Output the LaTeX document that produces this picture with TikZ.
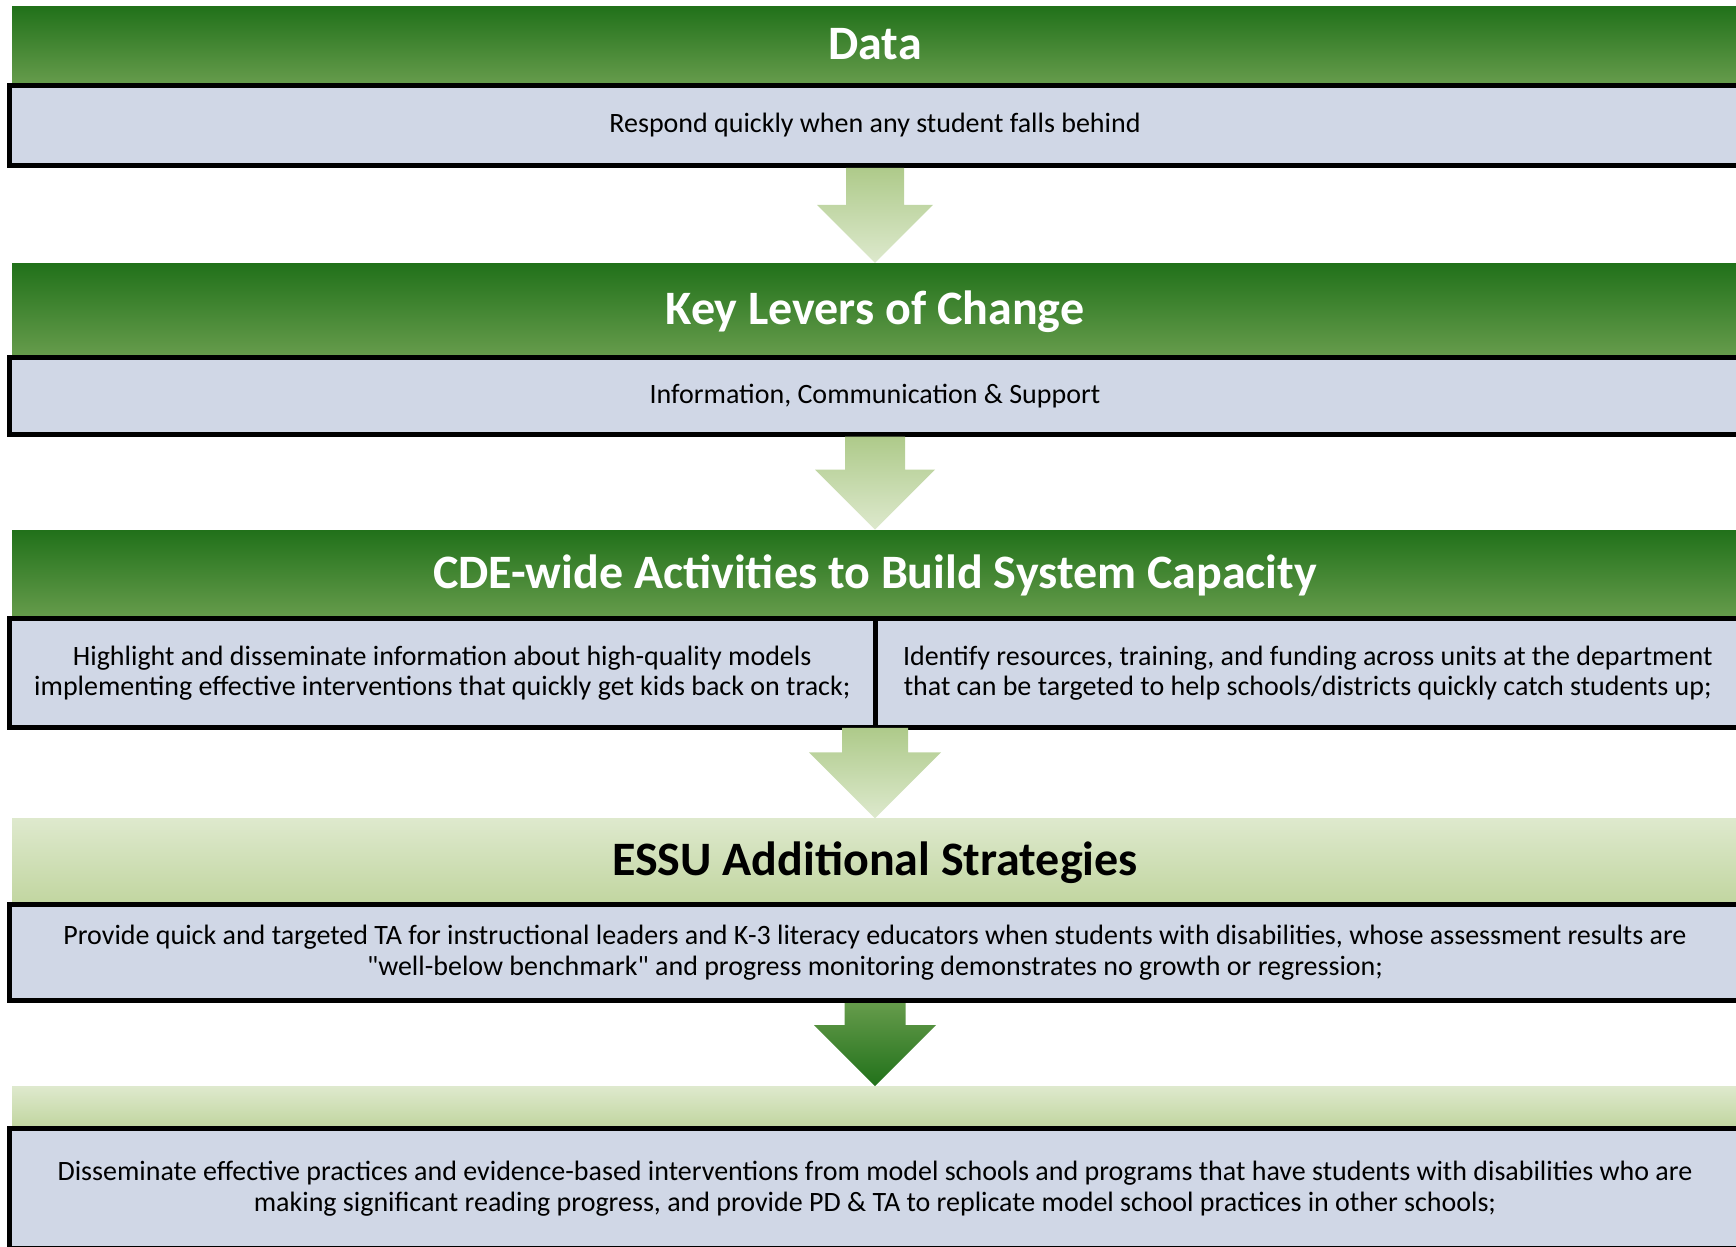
\documentclass[tikz,border=0pt]{standalone}
\usepackage{fontspec}
\setmainfont{Carlito}[Ligatures=TeXOff]
\usetikzlibrary{positioning,calc}
\definecolor{headDark}{RGB}{33,113,26}
\definecolor{headDarkLow}{RGB}{101,155,75}
\definecolor{headLight}{RGB}{222,233,205}
\definecolor{headLightLow}{RGB}{194,214,161}
\definecolor{boxBlue}{RGB}{208,215,230}
\definecolor{arrowLight}{RGB}{174,202,138}
\definecolor{arrowLightLow}{RGB}{221,233,205}
\tikzset{
  headBar/.style   = {rectangle, minimum width=863pt, minimum height=#1,
                      inner sep=0pt, text height=17.5pt, text depth=2pt,
                      font=\fontsize{24}{28}\selectfont\bfseries},
  darkHead/.style  = {headBar=#1, top color=headDark, bottom color=headDarkLow,
                      text=white},
  lightHead/.style = {headBar=#1, top color=headLight, bottom color=headLightLow,
                      text=black},
  textBox/.style   = {rectangle, draw=black, line width=2.5pt, fill=boxBlue,
                      minimum width=865.5pt, minimum height=#1, align=center,
                      inner sep=0pt, font=\fontsize{14}{15.2}\selectfont},
  halfBox/.style   = {textBox=#1, minimum width=432.75pt, outer sep=0pt},
  lightArrow/.style = {top color=arrowLight, bottom color=arrowLightLow},
  darkArrow/.style  = {top color=headDarkLow, bottom color=headDark},
}

\begin{document}
\begin{tikzpicture}[x=0.5pt, y=-0.5pt]
  \useasboundingbox (0,0) rectangle (1736,1247);
  % data
  \node[darkHead=38pt, anchor=north] (h1) at (875,6) {Data};
  \node[textBox=40pt, below=0pt of h1] (b1) {Respond quickly when any student falls behind};
  % levers
  \node[darkHead=45.5pt, below=47.5pt of b1] (h2) {Key Levers of Change};
  \node[textBox=38.5pt, below=0pt of h2] (b2) {Information, Communication \& Support};
  % CDE-wide
  \node[darkHead=43pt, below=46.5pt of b2] (h3) {CDE-wide Activities to Build System Capacity};
  \node[halfBox=54.5pt, below left=1.25pt and 0pt of h3.south] (b3l)
      {Highlight and disseminate information about high-quality models\\
       implementing effective interventions that quickly get kids back on track;};
  \node[halfBox=54.5pt, below right=1.25pt and 0pt of h3.south] (b3r)
      {Identify resources, training, and funding across units at the department\\
       that can be targeted to help schools/districts quickly catch students up;};
  % ESSU
  \node[lightHead=41.5pt, below=45.25pt of b3l.south east] (h4) {ESSU Additional Strategies};
  \node[textBox=48pt, below=0pt of h4] (b4)
      {Provide quick and targeted TA for instructional leaders and K-3 literacy educators when students with disabilities, whose assessment results are\\
       "well-below benchmark" and progress monitoring demonstrates no growth or regression;};
  \node[lightHead=18.5pt, below=41.5pt of b4] (h5) {};
  \node[textBox=60pt, below=0pt of h5] (b5)
      {Disseminate effective practices and evidence-based interventions from model schools and programs that have students with disabilities who are\\
       making significant reading progress, and provide PD \& TA to replicate model school practices in other schools;};
  % block arrows
  \foreach \src/\dst/\hw/\kind in {b1.south/h2/29/lightArrow, b2.south/h3/30/lightArrow,
                                   b3l.south east/h4/33/lightArrow, b4.south/h5/30.5/darkArrow}
    \shade[\kind] let \p1=(\src), \p2=(\dst.north) in
      (\x2-\hw/2,\y1) -- (\x2+\hw/2,\y1) -- (\x2+\hw/2,\y2+\hw) -- (\x2+\hw,\y2+\hw)
      -- (\x2,\y2) -- (\x2-\hw,\y2+\hw) -- (\x2-\hw/2,\y2+\hw) -- cycle;
\end{tikzpicture}
\end{document}
